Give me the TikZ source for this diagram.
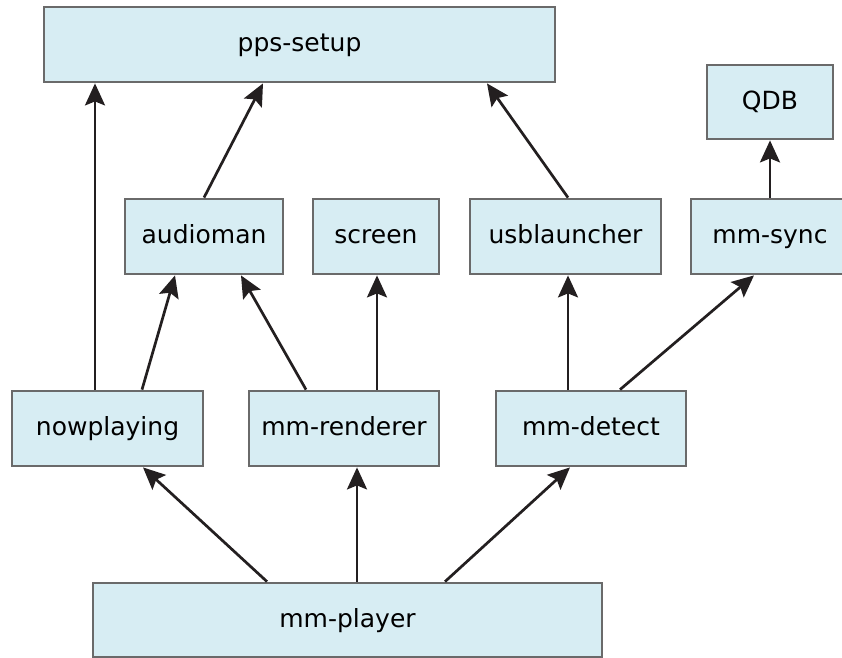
\documentclass[tikz,border=0pt]{standalone}
\usepackage{fontspec}
\setmainfont{DejaVu Sans}
\usetikzlibrary{arrows.meta}
\definecolor{boxfill}{HTML}{D7EDF3}
\definecolor{boxline}{HTML}{6A6A6A}
\definecolor{arrowink}{HTML}{231F20}
\begin{document}
\begin{tikzpicture}[x=1pt,y=-1pt,
  comp/.style={draw=boxline, fill=boxfill, line width=2.8pt, inner sep=0pt,
    minimum height=75pt, text height=19pt, text depth=5pt,
    font=\fontsize{25}{30}\selectfont, text=black},
  dep/.style={draw=arrowink, line width=2.7pt,
    -{Stealth[length=22pt,width=20pt,inset=4pt]}}]
\useasboundingbox (0,0) rectangle (842,657);

% components
\node[comp, minimum width=511pt] (pps)    at (299.5,44.5) {pps-setup};
\node[comp, minimum width=126pt, minimum height=74pt] (qdb) at (770,102) {QDB};
\node[comp, minimum width=158pt] (audio)  at (204,236.5) {audioman};
\node[comp, minimum width=126pt] (screen) at (376,236.5) {screen};
\node[comp, minimum width=191pt] (usb)    at (565.5,236.5) {usblauncher};
\node[comp, minimum width=158pt] (sync)   at (770,236.5) {mm-sync};
\node[comp, minimum width=191pt] (np)     at (107.5,428.5) {nowplaying};
\node[comp, minimum width=190pt] (rend)   at (344,428.5) {mm-renderer};
\node[comp, minimum width=190pt] (det)    at (591,428.5) {mm-detect};
\node[comp, minimum width=509pt, minimum height=74pt] (player) at (347.5,620) {mm-player};

% dependencies
\draw[dep] ([xshift=-12.5pt]np.north) coordinate (a1) -- (a1 |- pps.south);
\draw[dep] ([xshift=34.5pt]np.north) -- ([xshift=-29pt]audio.south);
\draw[dep] (audio.north) -- ([xshift=-36.5pt]pps.south);
\draw[dep] ([xshift=-38pt]rend.north) -- ([xshift=37pt]audio.south);
\draw[dep] ([xshift=33pt]rend.north) coordinate (a2) -- (a2 |- screen.south);
\draw[dep] ([xshift=2.5pt]usb.north) -- ([xshift=187.5pt]pps.south);
\draw[dep] ([xshift=-23pt]det.north) coordinate (a3) -- (a3 |- usb.south);
\draw[dep] ([xshift=29pt]det.north) -- ([xshift=-16pt]sync.south);
\draw[dep] (sync.north) -- (qdb.south);
\draw[dep] ([xshift=-80.5pt]player.north) -- ([xshift=35.5pt]np.south);
\draw[dep] ([xshift=9.5pt]player.north) coordinate (a4) -- (a4 |- rend.south);
\draw[dep] ([xshift=97.5pt]player.north) -- ([xshift=-21pt]det.south);
\end{tikzpicture}
\end{document}
